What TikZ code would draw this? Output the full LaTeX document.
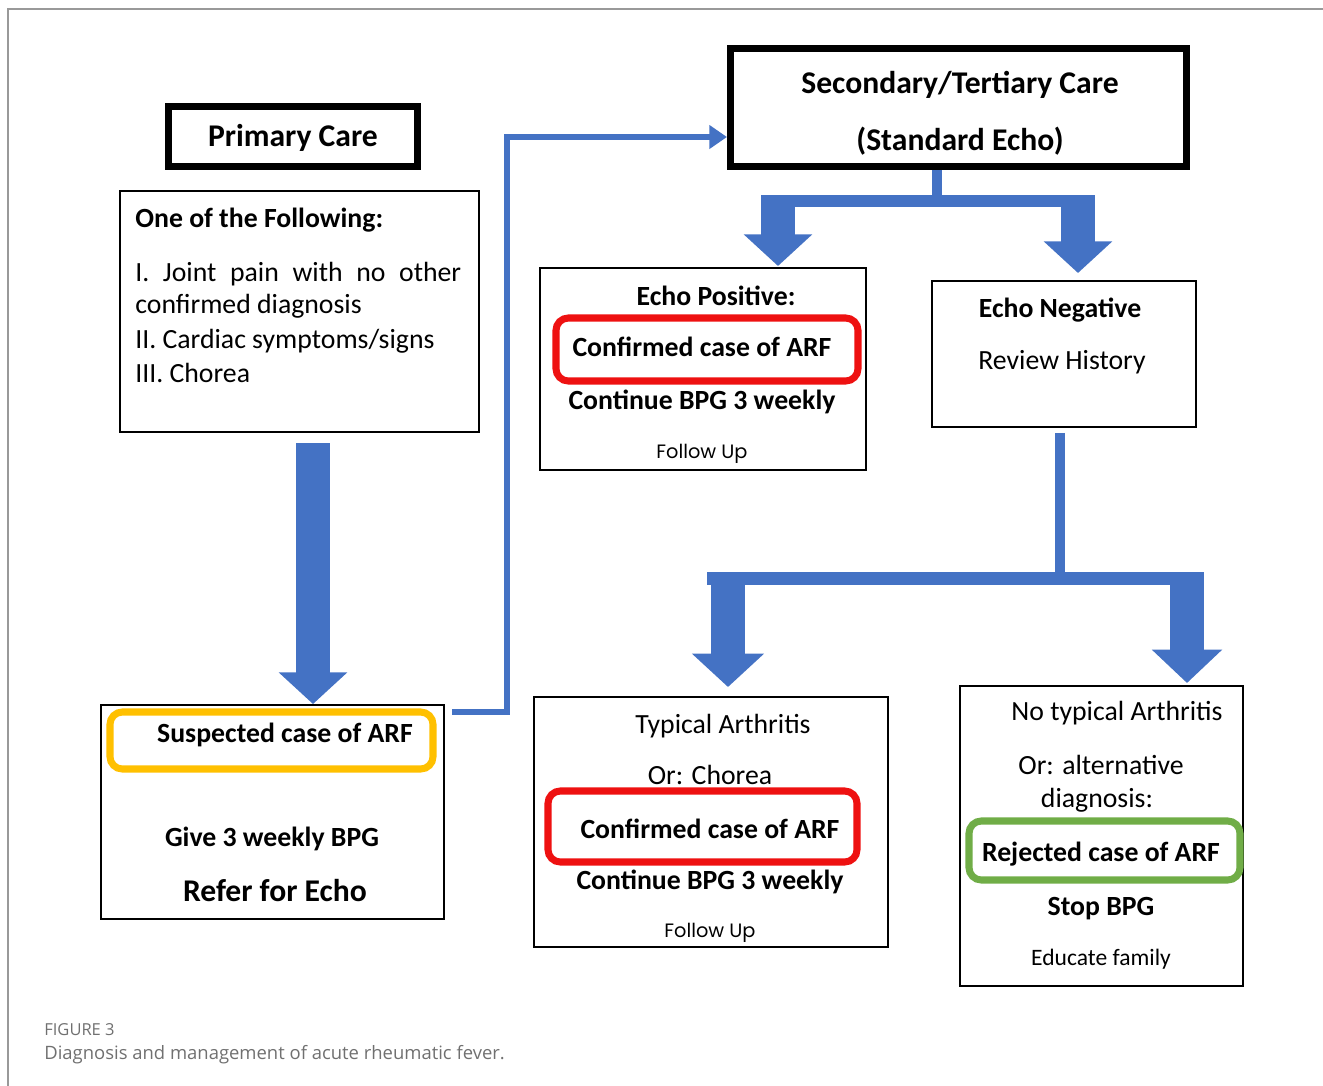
\documentclass[tikz,border=0pt]{standalone}
\usepackage{fontspec}
\setmainfont{Carlito}
\newfontfamily\capfont{Open Sans}
\newfontfamily\roundfont{Poppins}
\usetikzlibrary{arrows.meta,fit}
\definecolor{arfblue}{HTML}{4472C4}
\definecolor{arfred}{HTML}{EE1111}
\definecolor{arfyellow}{HTML}{FFC000}
\definecolor{arfgreen}{HTML}{70AD47}
\definecolor{capgray}{HTML}{707070}

\begin{document}
\begin{tikzpicture}[x=0.02cm,y=-0.02cm,
    box/.style={draw, line width=1.1pt, inner sep=0pt},
    headbox/.style={draw, line width=4pt, inner sep=0pt},
    tag/.style={draw, line width=4pt, rounded corners=7pt, inner sep=0pt},
    txt/.style={anchor=base, inner sep=0pt, font=\fontsize{15.8}{19}\selectfont},
    btxt/.style={txt, font=\fontsize{15.8}{19}\selectfont\bfseries},
    bigtxt/.style={txt, font=\fontsize{18}{22}\selectfont\bfseries},
    smalltxt/.style={txt, font=\fontsize{11}{14}\selectfont\roundfont},
    bigarrow/.style={arfblue, line width=18.8pt, -{Triangle[width=38pt,length=18pt]}},
    stem/.style={arfblue, line width=6pt},
    conn/.style={arfblue, line width=3.4pt, -{Triangle[width=13pt,length=10pt]}}]

    \useasboundingbox (0,0) rectangle (1323,1086);
    \draw[gray!80, line width=0.8pt] (8,1086) -- (8,9) -- (1323,9);

    % Primary care column
    \node[headbox, fit={(168.5,106.5) (417.5,166.5)}] (prim) {};
    \node[bigtxt] (primt) at (293,146) {Primary Care};

    \node[box, fit={(120,191) (479,432)}] (oneof) {};
    \node[btxt, anchor=base west] (onet) at (135,227) {One of the Following:};
    \node[txt, anchor=base west] (l1) at (135,281)
        {\makebox[6.52cm][s]{I. Joint pain with no other}};
    \node[txt, anchor=base west] (l2) at (135,313) {confirmed diagnosis};
    \node[txt, anchor=base west] (l3) at (135,348) {II. Cardiac symptoms/signs};
    \node[txt, anchor=base west] (l4) at (135,382) {III. Chorea};

    \node[box, fit={(101,705) (444,919)}] (susp) {};
    \node[tag, arfyellow, fit={(110,712) (433,769)}] (suspt) {};
    \node[btxt] at (285,742) {Suspected case of ARF};
    \node[btxt] at (272,846) {Give 3 weekly BPG};
    \node[bigtxt] at (275,901) {Refer for Echo};

    % Secondary / tertiary care
    \node[headbox, fit={(730.5,48.5) (1186.5,166.5)}] (sec) {};
    \node[bigtxt] at (960,93) {Secondary/Tertiary Care};
    \node[bigtxt] at (960,150) {(Standard Echo)};

    \node[box, fit={(540,268) (866,470)}] (pos) {};
    \node[btxt] at (716,305) {Echo Positive:};
    \node[tag, arfred, fit={(556,318) (858,381)}] (posc) {};
    \node[btxt] at (702,356) {Confirmed case of ARF};
    \node[btxt] at (702,409) {Continue BPG 3 weekly};
    \node[smalltxt] at (702,458) {Follow Up};

    \node[box, fit={(932,281) (1196,427)}] (neg) {};
    \node[btxt] at (1060,317) {Echo Negative};
    \node[txt] at (1062,369) {Review History};

    \node[box, fit={(534,697) (888,947)}] (typ) {};
    \node[txt] at (723,733) {Typical Arthritis};
    \node[txt] at (710,784) {Or: Chorea};
    \node[tag, arfred, fit={(548,791) (857,862)}] (typc) {};
    \node[btxt] at (710,838) {Confirmed case of ARF};
    \node[btxt] at (710,889) {Continue BPG 3 weekly};
    \node[smalltxt] at (710,937) {Follow Up};

    \node[box, fit={(960,686) (1243,986)}] (notyp) {};
    \node[txt] at (1117,720) {No typical Arthritis};
    \node[txt] at (1101,774) {Or: alternative};
    \node[txt] at (1097,807) {diagnosis:};
    \node[tag, arfgreen, fit={(969,821) (1240,880)}] (rej) {};
    \node[btxt] at (1101,861) {Rejected case of ARF};
    \node[btxt] at (1101,915) {Stop BPG};
    \node[txt, font=\fontsize{13.4}{16}\selectfont] at (1101,965) {Educate family};

    % Connectors
    \coordinate (a1) at (313,443);
    \draw[bigarrow] (a1) -- (a1 |- susp.north);

    \coordinate (out) at (452,712);
    \coordinate (turn) at (507,137);
    \draw[conn] (out) -| (turn) -- (turn -| sec.west);

    % split after the echo
    \coordinate (j1) at (937,201);
    \coordinate (b1l) at (762,201);
    \coordinate (b1r) at (1094,201);
    \draw[stem] (j1 |- sec.south) -- (j1);
    \draw[arfblue, line width=7pt] (b1l) -- (b1r);
    \draw[bigarrow] (778,195) -- (778,266);
    \draw[bigarrow] (1078,195) -- (1078,273);

    % split after the review
    \coordinate (j2) at (1060,578);
    \coordinate (b2l) at (707,578);
    \coordinate (b2r) at (1203,578);
    \draw[stem] (j2 |- neg.south) ++(0,5) -- (j2);
    \draw[arfblue, line width=7.4pt] (b2l) -- (b2r);
    \draw[bigarrow, -{Triangle[width=40pt,length=19pt]}] (728,572) -- (728,687);
    \draw[bigarrow, -{Triangle[width=39pt,length=19pt]}] (1187,572) -- (1187,683);

    % caption
    \node[anchor=base west, inner sep=0pt, text=capgray, font=\fontsize{9.4}{11}\capfont] (fig) at (44,1035) {FIGURE 3};
    \node[anchor=base west, inner sep=0pt, text=capgray, font=\fontsize{10.5}{13}\capfont] (cap) at (44,1059) {Diagnosis and management of acute rheumatic fever.};
\end{tikzpicture}
\end{document}
